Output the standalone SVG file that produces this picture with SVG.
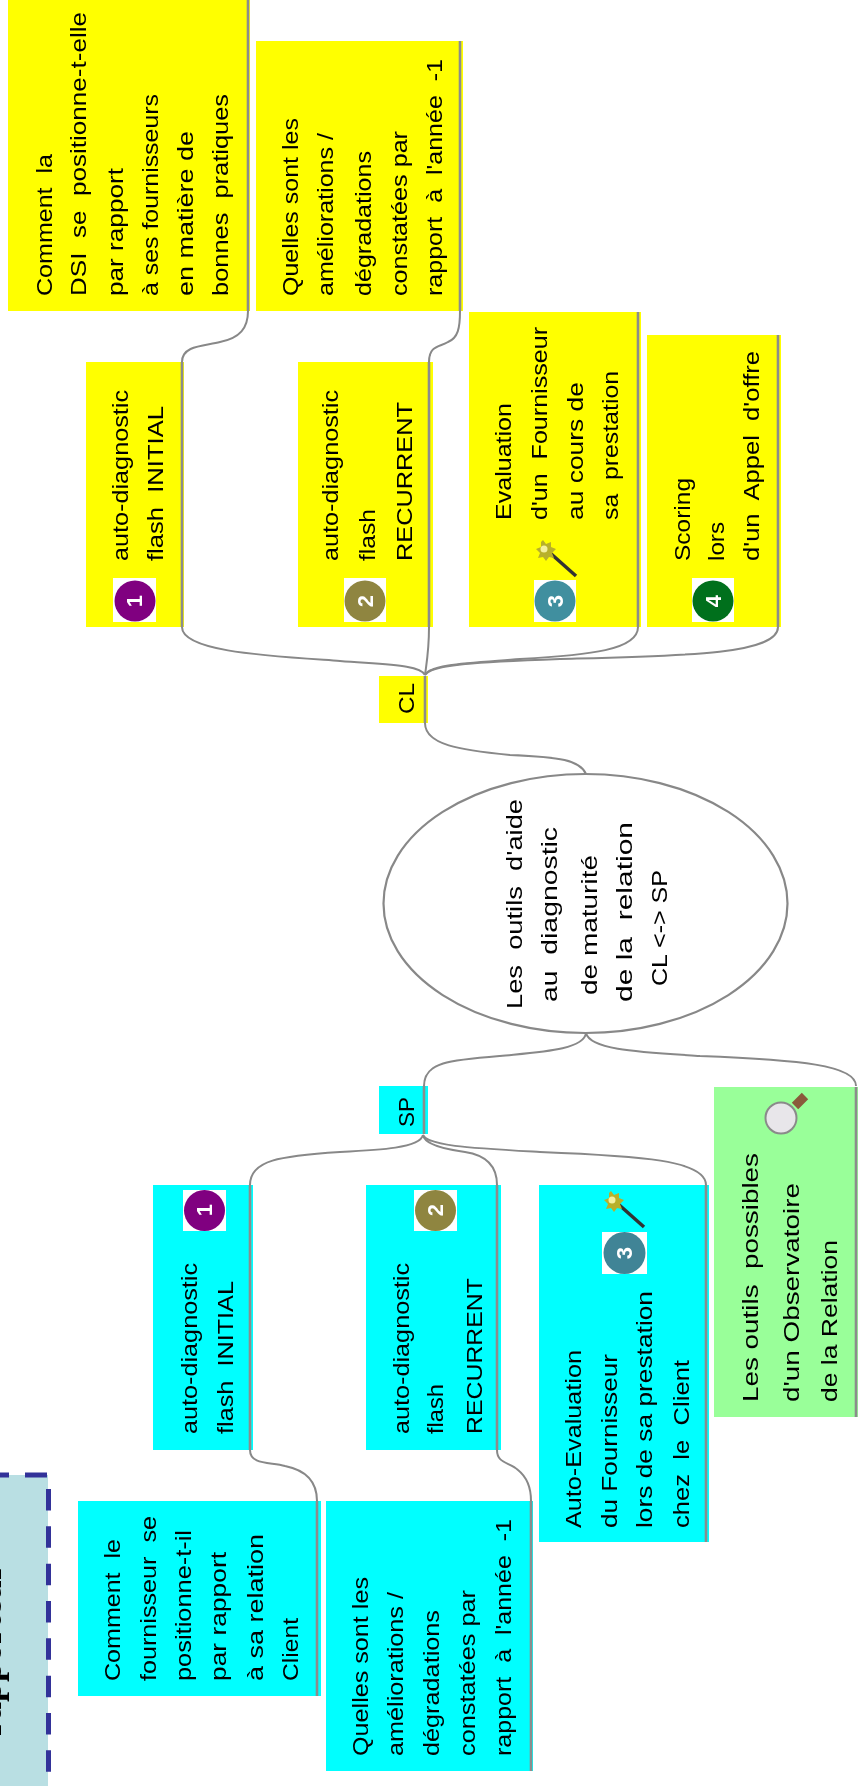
<svg xmlns="http://www.w3.org/2000/svg" xmlns:xlink="http://www.w3.org/1999/xlink" width="859" height="1786" viewBox="0 0 859 1786">
<style>
.t{font-family:"Liberation Sans",Arial,sans-serif;font-size:22px;fill:#000;white-space:pre}
.y{fill:#ffff00}.c{fill:#00ffff}.g{fill:#99ff99}
.e{fill:none;stroke:#888;stroke-width:2}
.u{fill:none;stroke:#8c8c8c;stroke-width:2.6}
.n{font-family:"Liberation Sans",Arial,sans-serif;font-weight:bold;font-size:22px;fill:#fff;text-anchor:middle}
.w{fill:#fff}
</style>
<defs>
<filter id="soft" x="-2%" y="-2%" width="104%" height="104%"><feGaussianBlur stdDeviation="0.45"/></filter>
<g id="wand"><path d="M14 14L41 38" stroke="#333" stroke-width="3.500" fill="none"/><path d="M8 2l3 4 5-2 0 5 5 2-4 4 2 5-5-1-3 4-3-4-5 1 2-5-4-4 5-2 0-5z" fill="#b8b02a"/><circle cx="9" cy="11" r="3.500" fill="#f4f0a0"/></g>
</defs>
<g filter="url(#soft)">
<g id="panel">
<rect x="0" y="1475" width="48" height="311" fill="#b9dfe3"/>
<path d="M0 1475H9M25 1475H47" fill="none" stroke="#333399" stroke-width="5"/>
<path d="M48.500 1489V1786" fill="none" stroke="#333399" stroke-width="5" stroke-dasharray="21.500 15.830"/>
<text transform="translate(1,1736) rotate(-90)" font-family="Liberation Serif,serif" font-weight="bold" font-size="36" fill="#000">rapporteur</text>
</g>
<g id="n-cmt-cl">
<rect class="y" x="8" y="0" width="242" height="311"/>
<text class="t" transform="translate(52,296) rotate(-90)" textLength="142" lengthAdjust="spacingAndGlyphs">Comment  la</text>
<text class="t" transform="translate(86,296) rotate(-90)" textLength="284" lengthAdjust="spacingAndGlyphs">DSI  se  positionne-t-elle</text>
<text class="t" transform="translate(123,296) rotate(-90)" textLength="128" lengthAdjust="spacingAndGlyphs">par rapport</text>
<text class="t" transform="translate(158,296) rotate(-90)" textLength="202" lengthAdjust="spacingAndGlyphs">à ses fournisseurs</text>
<text class="t" transform="translate(193,296) rotate(-90)" textLength="165" lengthAdjust="spacingAndGlyphs">en matière de</text>
<text class="t" transform="translate(228,296) rotate(-90)" textLength="202" lengthAdjust="spacingAndGlyphs">bonnes  pratiques</text>
</g>
<g id="n-q-cl">
<rect class="y" x="256" y="41" width="207" height="270"/>
<text class="t" transform="translate(298,296) rotate(-90)" textLength="178" lengthAdjust="spacingAndGlyphs">Quelles sont les</text>
<text class="t" transform="translate(333,296) rotate(-90)" textLength="163" lengthAdjust="spacingAndGlyphs">améliorations /</text>
<text class="t" transform="translate(371,296) rotate(-90)" textLength="145" lengthAdjust="spacingAndGlyphs">dégradations</text>
<text class="t" transform="translate(407,296) rotate(-90)" textLength="165" lengthAdjust="spacingAndGlyphs">constatées par</text>
<text class="t" transform="translate(442,296) rotate(-90)" textLength="237" lengthAdjust="spacingAndGlyphs">rapport  à  l'année  -1</text>
</g>
<g id="n-ad1-cl">
<rect class="y" x="86" y="362" width="98" height="265"/>
<rect class="w" x="113" y="578" width="43" height="44"/>
<circle cx="135" cy="601" r="20.500" fill="#800080"/>
<text class="n" transform="translate(142,601) rotate(-90)">1</text>
<text class="t" transform="translate(128,561) rotate(-90)" textLength="171" lengthAdjust="spacingAndGlyphs">auto-diagnostic</text>
<text class="t" transform="translate(163,561) rotate(-90)" textLength="155" lengthAdjust="spacingAndGlyphs">flash  INITIAL</text>
</g>
<g id="n-ad2-cl">
<rect class="y" x="298" y="362" width="135" height="265"/>
<rect class="w" x="344" y="578" width="42" height="44"/>
<circle cx="365" cy="601" r="20.500" fill="#8f853f"/>
<text class="n" transform="translate(373,601) rotate(-90)">2</text>
<text class="t" transform="translate(338,561) rotate(-90)" textLength="171" lengthAdjust="spacingAndGlyphs">auto-diagnostic</text>
<text class="t" transform="translate(375,561) rotate(-90)" textLength="52" lengthAdjust="spacingAndGlyphs">flash</text>
<text class="t" transform="translate(412,561) rotate(-90)" textLength="159" lengthAdjust="spacingAndGlyphs">RECURRENT</text>
</g>
<g id="n-eval-cl">
<rect class="y" x="469" y="312" width="172" height="315"/>
<use xlink:href="#wand" href="#wand" x="535" y="538"/>
<rect class="w" x="534" y="580" width="42" height="42"/>
<circle cx="555" cy="601" r="20.500" fill="#3f8f9f"/>
<text class="n" transform="translate(563,601) rotate(-90)">3</text>
<text class="t" transform="translate(511,520) rotate(-90)" textLength="117" lengthAdjust="spacingAndGlyphs">Evaluation</text>
<text class="t" transform="translate(547,520) rotate(-90)" textLength="193" lengthAdjust="spacingAndGlyphs">d'un  Fournisseur</text>
<text class="t" transform="translate(583,520) rotate(-90)" textLength="138" lengthAdjust="spacingAndGlyphs">au cours de</text>
<text class="t" transform="translate(618,520) rotate(-90)" textLength="149" lengthAdjust="spacingAndGlyphs">sa  prestation</text>
</g>
<g id="n-score-cl">
<rect class="y" x="647" y="335" width="134" height="292"/>
<rect class="w" x="692" y="578" width="42" height="44"/>
<circle cx="713" cy="601" r="20.500" fill="#006f1a"/>
<text class="n" transform="translate(721,601) rotate(-90)">4</text>
<text class="t" transform="translate(690,561) rotate(-90)" textLength="83" lengthAdjust="spacingAndGlyphs">Scoring</text>
<text class="t" transform="translate(724,561) rotate(-90)" textLength="39" lengthAdjust="spacingAndGlyphs">lors</text>
<text class="t" transform="translate(759,561) rotate(-90)" textLength="210" lengthAdjust="spacingAndGlyphs">d'un  Appel  d'offre</text>
</g>
<g id="n-cl">
<rect class="y" x="379" y="676" width="49" height="47"/>
<text class="t" transform="translate(414,714) rotate(-90)" textLength="31" lengthAdjust="spacingAndGlyphs">CL</text>
</g>
<g id="n-root">
<ellipse cx="585.500" cy="903.500" rx="202" ry="129.500" fill="#fff" stroke="#888" stroke-width="2.200"/>
<text class="t" transform="translate(522,1009) rotate(-90)" textLength="210" lengthAdjust="spacingAndGlyphs">Les  outils  d'aide</text>
<text class="t" transform="translate(557,1002) rotate(-90)" textLength="175" lengthAdjust="spacingAndGlyphs">au  diagnostic</text>
<text class="t" transform="translate(597,995) rotate(-90)" textLength="140" lengthAdjust="spacingAndGlyphs">de maturité</text>
<text class="t" transform="translate(632,1002) rotate(-90)" textLength="180" lengthAdjust="spacingAndGlyphs">de la  relation</text>
<text class="t" transform="translate(667,986) rotate(-90)" textLength="116" lengthAdjust="spacingAndGlyphs">CL &lt;-&gt; SP</text>
</g>
<g id="n-sp">
<rect class="c" x="379" y="1086" width="49" height="48"/>
<text class="t" transform="translate(414,1127) rotate(-90)" textLength="30" lengthAdjust="spacingAndGlyphs">SP</text>
</g>
<g id="n-ad1-sp">
<rect class="c" x="153" y="1185" width="100" height="265"/>
<rect class="w" x="183" y="1190" width="43" height="41"/>
<circle cx="204.500" cy="1210.500" r="20.500" fill="#800080"/>
<text class="n" transform="translate(212,1210) rotate(-90)">1</text>
<text class="t" transform="translate(197,1434) rotate(-90)" textLength="171" lengthAdjust="spacingAndGlyphs">auto-diagnostic</text>
<text class="t" transform="translate(233,1434) rotate(-90)" textLength="153" lengthAdjust="spacingAndGlyphs">flash  INITIAL</text>
</g>
<g id="n-cmt-sp">
<rect class="c" x="78" y="1501" width="243" height="195"/>
<text class="t" transform="translate(120,1681) rotate(-90)" textLength="142" lengthAdjust="spacingAndGlyphs">Comment  le</text>
<text class="t" transform="translate(156,1681) rotate(-90)" textLength="165" lengthAdjust="spacingAndGlyphs">fournisseur  se</text>
<text class="t" transform="translate(191,1681) rotate(-90)" textLength="151" lengthAdjust="spacingAndGlyphs">positionne-t-il</text>
<text class="t" transform="translate(226,1681) rotate(-90)" textLength="129" lengthAdjust="spacingAndGlyphs">par rapport</text>
<text class="t" transform="translate(263,1681) rotate(-90)" textLength="147" lengthAdjust="spacingAndGlyphs">à sa relation</text>
<text class="t" transform="translate(298,1681) rotate(-90)" textLength="63" lengthAdjust="spacingAndGlyphs">Client</text>
</g>
<g id="n-q-sp">
<rect class="c" x="326" y="1501" width="207" height="270"/>
<text class="t" transform="translate(368,1756) rotate(-90)" textLength="179" lengthAdjust="spacingAndGlyphs">Quelles sont les</text>
<text class="t" transform="translate(403,1756) rotate(-90)" textLength="164" lengthAdjust="spacingAndGlyphs">améliorations /</text>
<text class="t" transform="translate(439,1756) rotate(-90)" textLength="146" lengthAdjust="spacingAndGlyphs">dégradations</text>
<text class="t" transform="translate(475,1756) rotate(-90)" textLength="166" lengthAdjust="spacingAndGlyphs">constatées par</text>
<text class="t" transform="translate(511,1756) rotate(-90)" textLength="237" lengthAdjust="spacingAndGlyphs">rapport  à  l'année  -1</text>
</g>
<g id="n-ad2-sp">
<rect class="c" x="366" y="1185" width="135" height="265"/>
<rect class="w" x="414" y="1190" width="43" height="41"/>
<circle cx="435.500" cy="1210.500" r="20.500" fill="#8f853f"/>
<text class="n" transform="translate(443,1210) rotate(-90)">2</text>
<text class="t" transform="translate(409,1434) rotate(-90)" textLength="171" lengthAdjust="spacingAndGlyphs">auto-diagnostic</text>
<text class="t" transform="translate(443,1434) rotate(-90)" textLength="50" lengthAdjust="spacingAndGlyphs">flash</text>
<text class="t" transform="translate(482,1434) rotate(-90)" textLength="156" lengthAdjust="spacingAndGlyphs">RECURRENT</text>
</g>
<g id="n-eval-sp">
<rect class="c" x="539" y="1185" width="170" height="357"/>
<use xlink:href="#wand" href="#wand" x="603" y="1189"/>
<rect class="w" x="602" y="1232" width="45" height="42"/>
<circle cx="624.500" cy="1253" r="21" fill="#3f8496"/>
<text class="n" transform="translate(632,1253) rotate(-90)">3</text>
<text class="t" transform="translate(581,1528) rotate(-90)" textLength="178" lengthAdjust="spacingAndGlyphs">Auto-Evaluation</text>
<text class="t" transform="translate(617,1528) rotate(-90)" textLength="174" lengthAdjust="spacingAndGlyphs">du Fournisseur</text>
<text class="t" transform="translate(652,1528) rotate(-90)" textLength="237" lengthAdjust="spacingAndGlyphs">lors de sa prestation</text>
<text class="t" transform="translate(689,1528) rotate(-90)" textLength="168" lengthAdjust="spacingAndGlyphs">chez  le  Client</text>
</g>
<g id="n-obs">
<rect class="g" x="714" y="1087" width="144" height="330"/>
<path d="M795 1106L805 1096" stroke="#8a5a3a" stroke-width="9" fill="none"/>
<circle cx="781" cy="1118" r="15.500" fill="#e8e6ea" stroke="#8a8a8a" stroke-width="2"/>
<text class="t" transform="translate(758,1402) rotate(-90)" textLength="249" lengthAdjust="spacingAndGlyphs">Les outils  possibles</text>
<text class="t" transform="translate(799,1402) rotate(-90)" textLength="219" lengthAdjust="spacingAndGlyphs">d'un Observatoire</text>
<text class="t" transform="translate(837,1402) rotate(-90)" textLength="162" lengthAdjust="spacingAndGlyphs">de la Relation</text>
</g>
<g id="connectors">
<path class="u" d="M248 0V311M460 41V311M182 362V627M429 362V627M638 312V627M778 335V627M425 676V723M424 1086V1134M250 1185V1450M317 1501V1696M497 1185V1450M531 1501V1771M706 1185V1542M856 1087V1417"/>
<path class="e" d="M182 362C182 345 205 346 220 342C240 338 248 328 248 311"/>
<path class="e" d="M429 362C429 345 440 347 448 342C458 338 460 328 460 311"/>
<path class="e" d="M425 675C420 665 390 665 340 661C270 656 182 652 182 627"/>
<path class="e" d="M425 675C427 660 429 650 429 627"/>
<path class="e" d="M425 675C430 664 470 663 520 659C590 655 638 650 638 627"/>
<path class="e" d="M425 675C432 664 480 662 560 659C680 656 778 655 778 627"/>
<path class="e" d="M425 723C425 745 460 750 510 755C560 757 580 760 586 774"/>
<path class="e" d="M586 1033C584 1050 540 1052 500 1056C450 1060 424 1062 424 1086"/>
<path class="e" d="M586 1033C590 1050 640 1052 700 1056C800 1060 856 1065 856 1086"/>
<path class="e" d="M423 1135C420 1148 380 1150 340 1152C280 1156 250 1160 250 1185"/>
<path class="e" d="M423 1135C425 1146 450 1150 465 1152C485 1155 497 1165 497 1185"/>
<path class="e" d="M423 1135C428 1146 470 1148 540 1152C640 1156 706 1160 706 1185"/>
<path class="e" d="M250 1450C250 1465 270 1462 285 1466C305 1470 317 1480 317 1501"/>
<path class="e" d="M497 1450C497 1464 510 1462 518 1470C528 1478 531 1490 531 1501"/>
</g>
</g>
</svg>
